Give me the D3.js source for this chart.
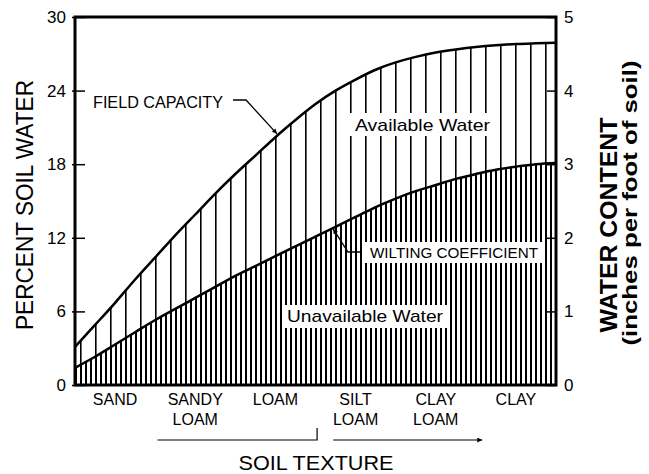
<!DOCTYPE html>
<html>
<head>
<meta charset="utf-8">
<script src="https://cdn.jsdelivr.net/npm/d3@7"></script>
<style>
body { margin: 0; background: #fff; }
text { font-family: "Liberation Sans", Arial, sans-serif; fill: #000; }
</style>
</head>
<body>
<svg id="chart" width="649" height="474"></svg>
<script>
// soil textures along the bottom
var textures = ["SAND", "SANDY LOAM", "LOAM", "SILT LOAM", "CLAY LOAM", "CLAY"];

// position along the texture axis (0 = left edge, 6 = right edge)
var position = [0, 0.25, 0.5, 0.75, 1, 1.25, 1.5, 1.75, 2, 2.25, 2.5, 2.75, 3,
	3.25, 3.5, 3.75, 4, 4.25, 4.5, 4.75, 5, 5.25, 5.5, 5.75, 6];

// percent soil water
var fieldCapacity = [3.1, 4.9, 6.7, 8.6, 10.4, 12.2, 13.9, 15.6, 17.2, 18.7, 20.2, 21.6, 22.9,
	24.0, 24.9, 25.7, 26.3, 26.75, 27.1, 27.35, 27.55, 27.7, 27.8, 27.85, 27.9];
var wiltingCoefficient = [1.4, 2.3, 3.3, 4.3, 5.3, 6.2, 7.1, 8.0, 8.9, 9.7, 10.5, 11.3, 12.1,
	12.9, 13.7, 14.5, 15.2, 15.8, 16.3, 16.8, 17.2, 17.55, 17.8, 18.0, 18.1];

var percentTicks = [0, 6, 12, 18, 24, 30];
var inchTicks = [0, 1, 2, 3, 4, 5];

var svg = d3.select("#chart");

var plotLeft = 75, plotRight = 556, plotTop = 17, plotBottom = 385;

var x = d3.scaleLinear().domain([0, 6]).range([plotLeft, plotRight]);
var xBand = d3.scaleBand().domain(textures).range([plotLeft, plotRight]);
var y = d3.scaleLinear().domain([0, 30]).range([plotBottom, plotTop]);
var yInch = d3.scaleLinear().domain([0, 5]).range([plotBottom, plotTop]);

function valueAt(arr, t){
	var i = d3.bisectLeft(position, t);
	if(i <= 0) return arr[0];
	if(i >= position.length) return arr[arr.length - 1];
	var k = (t - position[i - 1]) / (position[i] - position[i - 1]);
	return arr[i - 1] + k * (arr[i] - arr[i - 1]);
}

// hatching patterns
var defs = svg.append("defs");
defs.append("pattern")
	.attr("id", "dense")
	.attr("patternUnits", "userSpaceOnUse")
	.attr("x", 0).attr("y", 0)
	.attr("width", 5).attr("height", 10)
	.append("rect")
		.attr("x", 0).attr("y", 0)
		.attr("width", 2).attr("height", 10)
		.attr("fill", "#000");
defs.append("pattern")
	.attr("id", "sparse")
	.attr("patternUnits", "userSpaceOnUse")
	.attr("x", 0).attr("y", 0)
	.attr("width", 15).attr("height", 10)
	.append("rect")
		.attr("x", 5).attr("y", 0)
		.attr("width", 1.6).attr("height", 10)
		.attr("fill", "#000");
defs.append("marker")
	.attr("id", "arrow")
	.attr("viewBox", "0 0 10 10")
	.attr("refX", 10).attr("refY", 5)
	.attr("markerWidth", 7).attr("markerHeight", 5)
	.attr("markerUnits", "userSpaceOnUse")
	.attr("orient", "auto")
	.append("path")
		.attr("d", "M0,0 L10,5 L0,10 Z")
		.attr("fill", "#000");

var idx = d3.range(position.length);

var lowerArea = d3.area()
	.x(function(i){ return x(position[i]); })
	.y0(y(0))
	.y1(function(i){ return y(wiltingCoefficient[i]); })
	.curve(d3.curveNatural);

var middleArea = d3.area()
	.x(function(i){ return x(position[i]); })
	.y0(function(i){ return y(wiltingCoefficient[i]); })
	.y1(function(i){ return y(fieldCapacity[i]); })
	.curve(d3.curveNatural);

svg.append("path").attr("d", lowerArea(idx)).attr("fill", "url(#dense)");
svg.append("path").attr("d", middleArea(idx)).attr("fill", "url(#sparse)");

function curveLine(arr){
	return d3.line()
		.x(function(i){ return x(position[i]); })
		.y(function(i){ return y(arr[i]); })
		.curve(d3.curveNatural)(idx);
}

svg.append("path").attr("d", curveLine(fieldCapacity))
	.attr("style", "fill: none; stroke: black; stroke-width: 2.5;");
svg.append("path").attr("d", curveLine(wiltingCoefficient))
	.attr("style", "fill: none; stroke: black; stroke-width: 2.5;");

// labels inside the plot, on white boxes
function boxLabel(txt, bx, by, bw, bh, tx, ty, size, len){
	svg.append("rect")
		.attr("x", bx).attr("y", by)
		.attr("width", bw).attr("height", bh)
		.attr("fill", "#fff");
	svg.append("text")
		.attr("x", tx).attr("y", ty)
		.attr("font-size", size)
		.attr("textLength", len)
		.attr("lengthAdjust", "spacingAndGlyphs")
		.text(txt);
}

boxLabel("Available Water", 349, 113, 145, 23, 355, 131, 17, 135);
boxLabel("Unavailable Water", 283, 305, 165, 23, 287, 322, 17, 156);
boxLabel("WILTING COEFFICIENT", 362, 242, 180, 21, 370, 258, 15.5, 168);

svg.append("text")
	.attr("x", 93).attr("y", 108)
	.attr("font-size", 16)
	.attr("textLength", 130)
	.attr("lengthAdjust", "spacingAndGlyphs")
	.text("FIELD CAPACITY");

// leader lines
var fcT = 2.52;
svg.append("path")
	.attr("d", "M233,100 L246,100 L" + x(fcT) + "," + (y(valueAt(fieldCapacity, fcT)) - 2))
	.attr("style", "fill: none; stroke: black; stroke-width: 1.3;")
	.attr("marker-end", "url(#arrow)");

var wcT = 3.22;
svg.append("path")
	.attr("d", "M360,252 L348,252 L" + x(wcT) + "," + (y(valueAt(wiltingCoefficient, wcT)) + 1))
	.attr("style", "fill: none; stroke: black; stroke-width: 1.3;")
	.attr("marker-end", "url(#arrow)");

// frame
svg.append("rect")
	.attr("x", plotLeft).attr("y", plotTop)
	.attr("width", plotRight - plotLeft).attr("height", plotBottom - plotTop)
	.attr("style", "fill: none; stroke: black; stroke-width: 3;");

// left axis
var leftAxis = svg.append("g")
	.attr("transform", "translate(" + plotLeft + ",0)")
	.call(d3.axisLeft(y).tickValues(percentTicks).tickSizeInner(-10).tickSizeOuter(0).tickPadding(9));
leftAxis.select(".domain").remove();
leftAxis.selectAll(".tick line").attr("x1", -3).attr("stroke-width", 1.5);
leftAxis.selectAll(".tick text")
	.attr("font-size", 17)
	.attr("font-family", "Liberation Sans, Arial, sans-serif");

// right axis
var rightAxis = svg.append("g")
	.attr("transform", "translate(" + plotRight + ",0)")
	.call(d3.axisRight(yInch).tickValues(inchTicks).tickFormat(d3.format("d"))
		.tickSizeInner(-9).tickSizeOuter(0).tickPadding(8));
rightAxis.select(".domain").remove();
rightAxis.selectAll(".tick line").attr("stroke-width", 1.5);
rightAxis.selectAll(".tick text")
	.attr("font-size", 17)
	.attr("font-family", "Liberation Sans, Arial, sans-serif");

// bottom texture labels
var bottomAxis = svg.append("g")
	.attr("transform", "translate(0," + plotBottom + ")")
	.call(d3.axisBottom(xBand).tickSize(0).tickPadding(0));
bottomAxis.select(".domain").remove();
bottomAxis.selectAll(".tick text").each(function(d){
	var words = d.split(" ");
	var t = d3.select(this).text(null)
		.attr("font-size", 16)
		.attr("font-family", "Liberation Sans, Arial, sans-serif")
		.attr("y", 0).attr("dy", null);
	words.forEach(function(w, i){
		t.append("tspan").attr("x", 0).attr("y", 20 + i * 20).text(w);
	});
});

// bracket and arrow under the labels
svg.append("path")
	.attr("d", "M" + x(1.03) + ",440 L" + x(3.02) + ",440 L" + x(3.02) + ",428")
	.attr("style", "fill: none; stroke: black; stroke-width: 1.2;");
svg.append("path")
	.attr("d", "M" + x(3.22) + ",440 L" + x(5.08) + ",440")
	.attr("style", "fill: none; stroke: black; stroke-width: 1.2;")
	.attr("marker-end", "url(#arrow)");

svg.append("text")
	.attr("x", 316).attr("y", 470)
	.attr("text-anchor", "middle")
	.attr("font-size", 21)
	.attr("textLength", 155)
	.attr("lengthAdjust", "spacingAndGlyphs")
	.text("SOIL TEXTURE");

// axis titles
svg.append("text")
	.attr("transform", "translate(33,205) rotate(-90)")
	.attr("text-anchor", "middle")
	.attr("font-size", 23)
	.attr("textLength", 250)
	.attr("lengthAdjust", "spacingAndGlyphs")
	.text("PERCENT SOIL WATER");

svg.append("text")
	.attr("transform", "translate(617,225) rotate(-90)")
	.attr("text-anchor", "middle")
	.attr("font-size", 23)
	.attr("font-weight", "bold")
	.attr("textLength", 215)
	.attr("lengthAdjust", "spacingAndGlyphs")
	.text("WATER CONTENT");

svg.append("text")
	.attr("transform", "translate(637,203) rotate(-90)")
	.attr("text-anchor", "middle")
	.attr("font-size", 21)
	.attr("font-weight", "bold")
	.attr("textLength", 285)
	.attr("lengthAdjust", "spacingAndGlyphs")
	.text("(inches per foot of soil)");
</script>
</body>
</html>
